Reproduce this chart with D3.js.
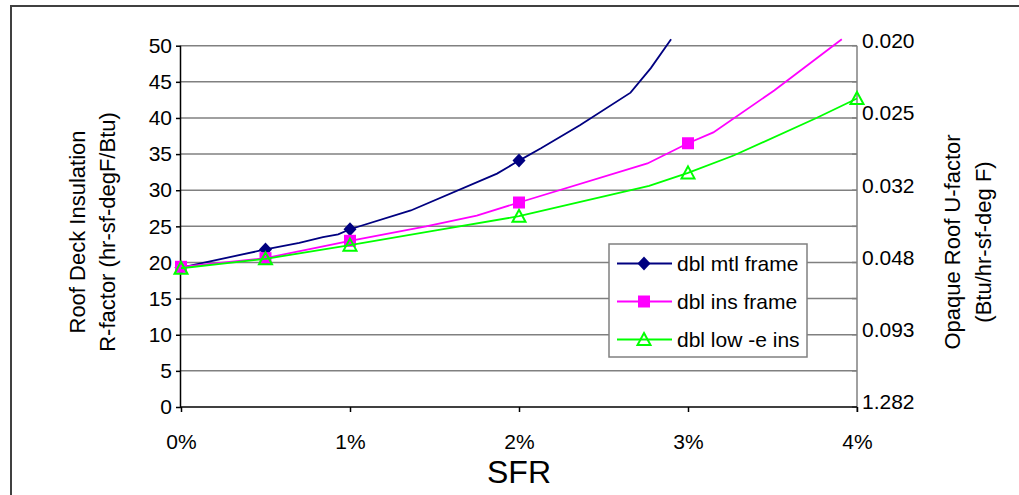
<!DOCTYPE html>
<html>
<head>
<meta charset="utf-8">
<script src="https://cdn.jsdelivr.net/npm/d3@7"></script>
<style>
  html, body { margin: 0; padding: 0; background: #fff; }
  svg { display: block; font-family: "Liberation Sans", Arial, sans-serif; }
</style>
</head>
<body>
<svg id="chart" width="1019" height="495"></svg>
<script>
// SFR (%) ticks on the bottom axis
const sfrTicks = [0, 1, 2, 3, 4];
// R-factor ticks on the left axis
const rTicks = [0, 5, 10, 15, 20, 25, 30, 35, 40, 45, 50];
// U-factor labels on the right axis, placed at these R values
const uTickR = [0, 10, 20, 30, 40, 50];
const uTickLabels = ["1.282", "0.093", "0.048", "0.032", "0.025", "0.020"];

const seriesNames = ["dbl mtl frame", "dbl ins frame", "dbl low -e ins"];
const seriesColors = ["#000080", "#FF00FF", "#00FF00"];
const seriesSymbols = ["diamond", "square", "triangle"];

// curve points: [SFR %, R-factor]
const mtlFrameLine = [[0, 19.3], [0.5, 21.8], [0.7, 22.7], [0.84, 23.5], [0.93, 23.9], [1, 24.6],
  [1.36, 27.2], [1.87, 32.3], [2, 34.1], [2.13, 35.8], [2.36, 39.0], [2.66, 43.5], [2.78, 46.9], [2.9, 50.9]];
const insFrameLine = [[0, 19.4], [0.5, 20.6], [1, 23.0], [1.45, 25.0], [1.75, 26.5], [2, 28.3],
  [2.76, 33.7], [3, 36.5], [3.15, 38.0], [3.51, 43.8], [3.91, 50.9]];
const lowEInsLine = [[0, 19.2], [0.5, 20.5], [1, 22.4], [1.5, 24.4], [2, 26.4], [2.77, 30.6],
  [3, 32.4], [3.27, 34.8], [3.76, 40.0], [4, 42.7]];

// marked points: [SFR %, R-factor]
const mtlFrameMarks = [[0, 19.3], [0.5, 21.8], [1, 24.6], [2, 34.1]];
const insFrameMarks = [[0, 19.4], [0.5, 20.6], [1, 23.0], [2, 28.3], [3, 36.5]];
const lowEInsMarks = [[0, 19.2], [0.5, 20.5], [1, 22.4], [2, 26.4], [3, 32.4], [4, 42.7]];

const lines = [mtlFrameLine, insFrameLine, lowEInsLine];
const marks = [mtlFrameMarks, insFrameMarks, lowEInsMarks];

const svg = d3.select("#chart");
const plot = { left: 181, right: 857, top: 45.7, bottom: 407 };
const FONT = 21;

const x = d3.scaleLinear().domain([0, 4]).range([plot.left, plot.right]);
const y = d3.scaleLinear().domain([0, 50]).range([plot.bottom, plot.top]);

// outer frame
svg.append("rect")
  .attr("x", 11).attr("y", 6).attr("width", 1030).attr("height", 520)
  .attr("fill", "none").attr("stroke", "#404040").attr("stroke-width", 2);

// gridlines
svg.append("g").selectAll("line").data(rTicks.filter(d => d > 0)).join("line")
  .attr("x1", plot.left).attr("x2", plot.right)
  .attr("y1", d => y(d)).attr("y2", d => y(d))
  .attr("stroke", "#808080").attr("stroke-width", 1.5);

// plot border (right side)
svg.append("line")
  .attr("x1", plot.right).attr("x2", plot.right)
  .attr("y1", plot.top).attr("y2", plot.bottom + 5)
  .attr("stroke", "#808080").attr("stroke-width", 1.5);

// right-axis ticks
svg.append("g").selectAll("line").data(rTicks).join("line")
  .attr("x1", plot.right - 5).attr("x2", plot.right)
  .attr("y1", d => y(d)).attr("y2", d => y(d))
  .attr("stroke", "#808080").attr("stroke-width", 1.5);

// left axis
const yAxis = d3.axisLeft(y).tickValues(rTicks).tickSize(5).tickPadding(4).tickFormat(d3.format("d"));
const gy = svg.append("g").attr("transform", `translate(${plot.left},0)`).call(yAxis);
gy.select(".domain").attr("stroke", "#000").attr("stroke-width", 1.5).attr("d", `M-0.5,${plot.top}V${plot.bottom}`);
gy.selectAll(".tick line").attr("stroke", "#000").attr("stroke-width", 1.5);
gy.selectAll(".tick text").attr("font-size", FONT).attr("fill", "#000")
  .attr("font-family", "Liberation Sans, Arial, sans-serif");

// bottom axis
const xAxis = d3.axisBottom(x).tickValues(sfrTicks).tickSize(5).tickPadding(22).tickFormat(d => d + "%");
const gx = svg.append("g").attr("transform", `translate(0,${plot.bottom})`).call(xAxis);
gx.select(".domain").attr("stroke", "#000").attr("stroke-width", 1.5).attr("d", `M${plot.left},0H${plot.right}`);
gx.selectAll(".tick line").attr("stroke", "#000").attr("stroke-width", 1.5);
gx.selectAll(".tick text").attr("font-size", FONT).attr("fill", "#000")
  .attr("font-family", "Liberation Sans, Arial, sans-serif");

// right axis labels
svg.append("g").selectAll("text").data(uTickR).join("text")
  .attr("x", plot.right + 5)
  .attr("y", d => y(d) - 5)
  .attr("dy", "0.35em")
  .attr("font-size", FONT)
  .text((d, i) => uTickLabels[i]);

// axis titles
const leftTitle = svg.append("text")
  .attr("transform", "translate(0,232) rotate(-90)")
  .attr("text-anchor", "middle").attr("font-size", 22);
leftTitle.append("tspan").attr("x", 0).attr("y", 85).text("Roof Deck Insulation");
leftTitle.append("tspan").attr("x", 0).attr("y", 115).text("R-factor (hr-sf-degF/Btu)");

const rightTitle = svg.append("text")
  .attr("transform", "translate(0,242) rotate(-90)")
  .attr("text-anchor", "middle").attr("font-size", 22);
rightTitle.append("tspan").attr("x", 0).attr("y", 960).text("Opaque Roof U-factor");
rightTitle.append("tspan").attr("x", 0).attr("y", 991).text("(Btu/hr-sf-deg F)");

svg.append("text")
  .attr("x", x(2)).attr("y", 483)
  .attr("text-anchor", "middle").attr("font-size", 32)
  .text("SFR");

// marker drawing
function drawMarker(g, kind, color, cx, cy) {
  if (kind === "diamond") {
    g.append("path")
      .attr("d", `M${cx},${cy - 7}L${cx + 6.5},${cy}L${cx},${cy + 7}L${cx - 6.5},${cy}Z`)
      .attr("fill", color);
  } else if (kind === "square") {
    g.append("rect")
      .attr("x", cx - 6).attr("y", cy - 6).attr("width", 12).attr("height", 12)
      .attr("fill", color);
  } else {
    g.append("path")
      .attr("d", `M${cx},${cy - 6.5}L${cx + 6.5},${cy + 5.5}L${cx - 6.5},${cy + 5.5}Z`)
      .attr("fill", "none").attr("stroke", color).attr("stroke-width", 2);
  }
}

const lineGen = d3.line().x(d => x(d[0])).y(d => y(d[1]));

lines.forEach((pts, i) => {
  const g = svg.append("g");
  g.append("path").attr("d", lineGen(pts))
    .attr("fill", "none").attr("stroke", seriesColors[i]).attr("stroke-width", 1.8);
  marks[i].forEach(p => drawMarker(g, seriesSymbols[i], seriesColors[i], x(p[0]), y(p[1])));
});

// legend
const legend = svg.append("g");
legend.append("rect")
  .attr("x", 609).attr("y", 244).attr("width", 198).attr("height", 113)
  .attr("fill", "#fff").attr("stroke", "#808080").attr("stroke-width", 1.5);
const rowY = [263.5, 301.5, 339.5];
seriesNames.forEach((name, i) => {
  legend.append("line")
    .attr("x1", 617).attr("x2", 672).attr("y1", rowY[i]).attr("y2", rowY[i])
    .attr("stroke", seriesColors[i]).attr("stroke-width", 1.8);
  drawMarker(legend, seriesSymbols[i], seriesColors[i], 644, rowY[i]);
  legend.append("text")
    .attr("x", 677).attr("y", rowY[i]).attr("dy", "0.35em")
    .attr("font-size", FONT).text(name);
});
</script>
</body>
</html>
